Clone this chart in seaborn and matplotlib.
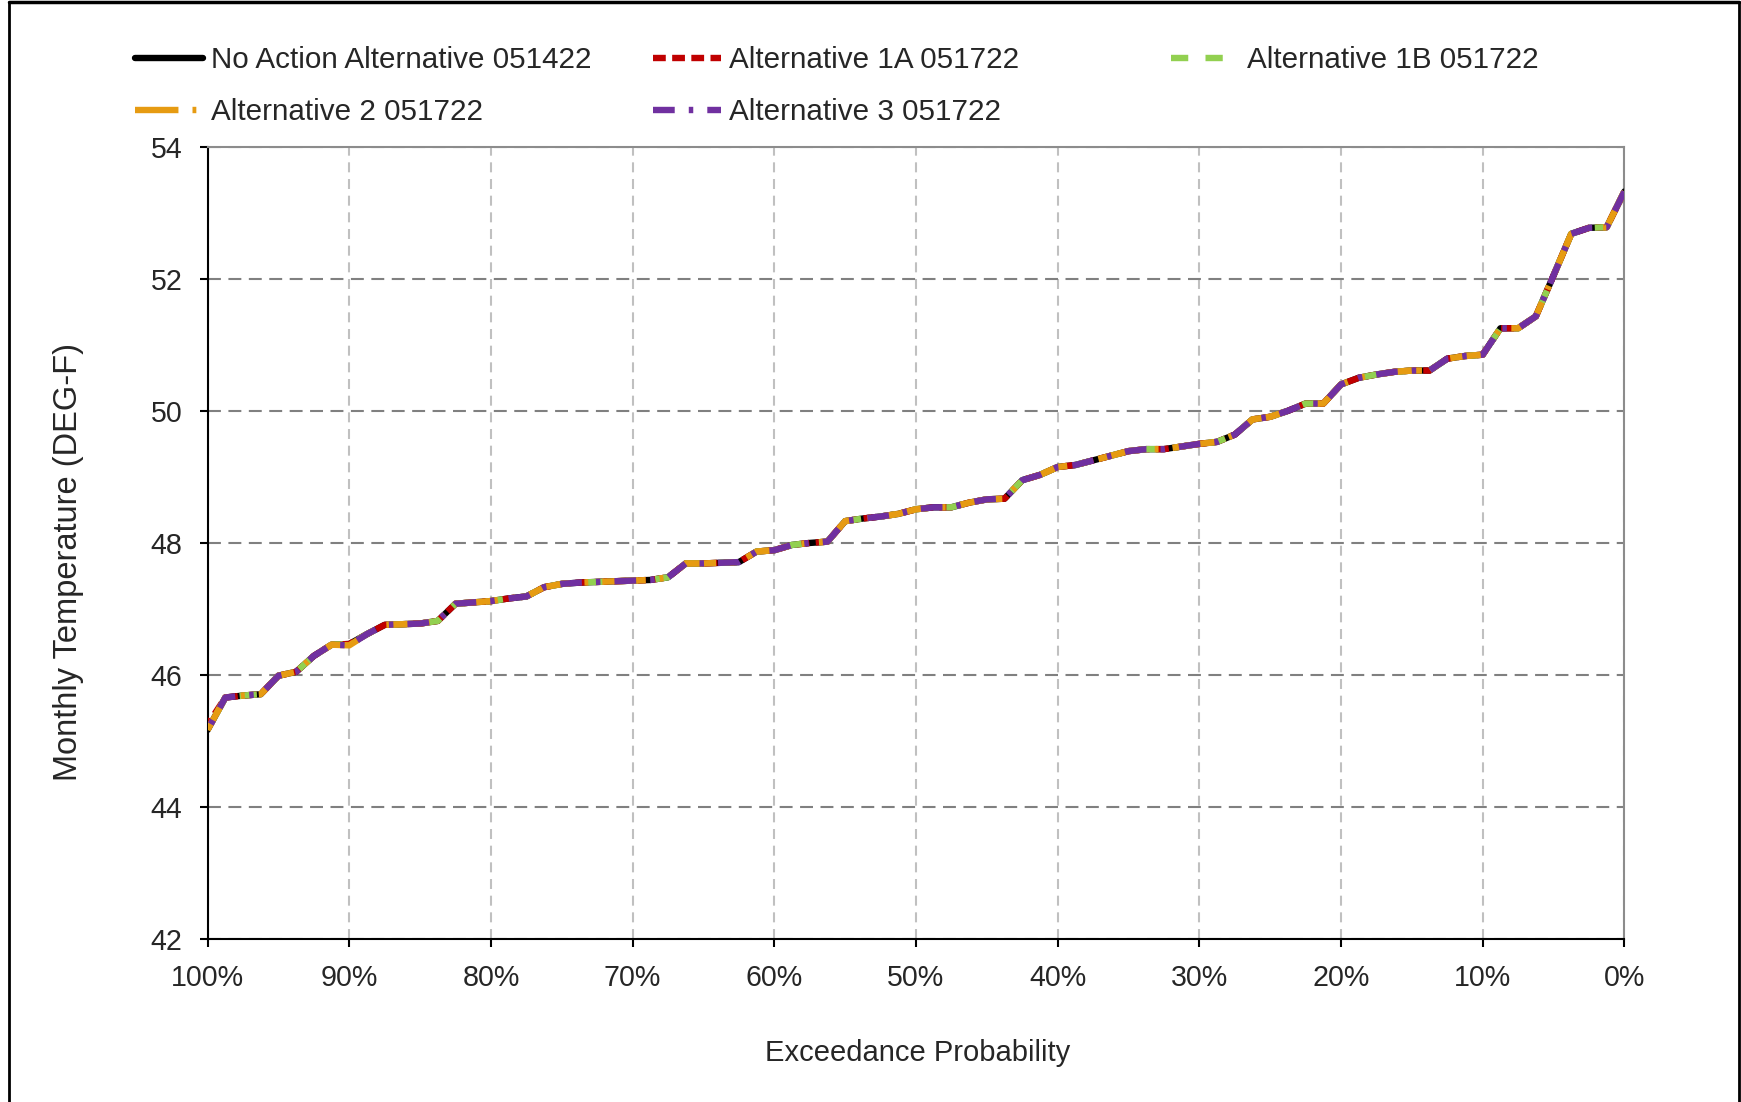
import numpy as np
import pandas as pd
import matplotlib.pyplot as plt
import seaborn as sns
from matplotlib.lines import Line2D
from matplotlib.ticker import MultipleLocator, PercentFormatter

# Exceedance probability (%) of the sorted monthly values, 100% -> 0%
exceed_pct = np.linspace(100, 0, 81)

# Monthly temperature (DEG-F)
temp_no_action = [
    45.17, 45.66, 45.69, 45.71, 45.99, 46.05, 46.29, 46.46, 46.47, 46.62,
    46.76, 46.77, 46.78, 46.82, 47.08, 47.10, 47.12, 47.16, 47.19, 47.33,
    47.38, 47.40, 47.41, 47.42, 47.43, 47.44, 47.48, 47.69, 47.69, 47.70,
    47.71, 47.87, 47.89, 47.97, 48.00, 48.02, 48.33, 48.37, 48.40, 48.44,
    48.51, 48.54, 48.54, 48.61, 48.66, 48.67, 48.95, 49.03, 49.15, 49.18,
    49.25, 49.32, 49.39, 49.42, 49.42, 49.46, 49.50, 49.53, 49.64, 49.87,
    49.91, 50.00, 50.11, 50.11, 50.40, 50.50, 50.55, 50.59, 50.61, 50.61,
    50.79, 50.83, 50.85, 51.25, 51.25, 51.43, 52.05, 52.68, 52.77, 52.78,
    53.32,
]
# the alternatives sit on top of the no action line, with a few small offsets
temp_alt_1a = list(temp_no_action)
temp_alt_1a[0] = 45.25
temp_alt_1b = list(temp_no_action)
temp_alt_2 = list(temp_no_action)
temp_alt_2[8] = 46.45
temp_alt_3 = list(temp_no_action)
temp_alt_3[8] = 46.45

labels = ["No Action Alternative 051422", "Alternative 1A 051722",
          "Alternative 1B 051722", "Alternative 2 051722",
          "Alternative 3 051722"]
colors = ["#000000", "#C00000", "#92D050", "#E69B12", "#7030A0"]
styles = ["-", (0, (2.0, 1.0)), (0, (2.7, 2.7)),
          (0, (6.8, 2.2, 0.6, 2.2)), (0, (3.4, 2.2, 0.7, 2.2))]
temps = [temp_no_action, temp_alt_1a, temp_alt_1b, temp_alt_2, temp_alt_3]

sns.set_style("white")
plt.rcParams['font.family'] = ['Liberation Sans', 'DejaVu Sans']

fig = plt.figure(figsize=(17.41, 11.02), dpi=100)
ax = fig.add_axes([207.6 / 1741, 1 - 939.3 / 1102,
                   (1624.4 - 207.6) / 1741, (939.3 - 146.6) / 1102])

handles = []
for i, (lab, t, c, ls) in enumerate(zip(labels, temps, colors, styles)):
    df = pd.DataFrame({'pct': exceed_pct, 'temp': t})
    sns.lineplot(data=df, x='pct', y='temp', ax=ax, color=c, linestyle=ls,
                 lw=4.6, zorder=3 + i, legend=False)
    handles.append(ax.lines[-1])

ax.set_xlim(100, 0)
ax.set_ylim(42, 54)
ax.xaxis.set_major_locator(MultipleLocator(10))
ax.xaxis.set_major_formatter(PercentFormatter(decimals=0))
ax.yaxis.set_major_locator(MultipleLocator(2))
ax.grid(axis='y', color='#808080', lw=1.5, linestyle=(0, (6.2, 3.6)))
ax.grid(axis='x', color='#C0C0C0', lw=1.5, linestyle=(0, (4.8, 3.2)))
ax.set_axisbelow(True)
ax.tick_params(axis='both', direction='out', length=6, width=1.5,
               color='black', labelsize=20.6, bottom=True, left=True)
ax.tick_params(axis='y', pad=12)
ax.tick_params(axis='x', pad=12)
for side in ['left', 'bottom']:
    ax.spines[side].set_color('black')
    ax.spines[side].set_linewidth(1.5)
for side in ['top', 'right']:
    ax.spines[side].set_color('#8C8C8C')
    ax.spines[side].set_linewidth(1.5)
ax.set_xlabel('')
ax.set_ylabel('')

fig.text(918 / 1741, 1 - 1053 / 1102, 'Exceedance Probability',
         fontsize=21, ha='center', va='center')
fig.text(69 / 1741, 1 - 562 / 1102, 'Monthly Temperature (DEG-F)',
         fontsize=23.5, ha='center', va='center', rotation=90)

# legend laid out as three columns, like the spreadsheet legend
leg_kw = dict(loc='upper left', frameon=False, fontsize=21.3,
              handlelength=2.3, handletextpad=0.27, labelspacing=0.82,
              borderpad=0, borderaxespad=0)
top = 1 - 46 / 1102
fig.legend([handles[0], handles[3]], [labels[0], labels[3]],
           bbox_to_anchor=(135 / 1741, top), **leg_kw)
fig.legend([handles[1], handles[4]], [labels[1], labels[4]],
           bbox_to_anchor=(653 / 1741, top), **leg_kw)
fig.legend([handles[2]], [labels[2]],
           bbox_to_anchor=(1171 / 1741, top), **leg_kw)

# outer chart frame (top, left, right)
fx0, fx1, fy = 9 / 1741, 1739 / 1741, 1 - 1.5 / 1102
fig.add_artist(Line2D([fx0, fx0], [0, fy], transform=fig.transFigure,
                      color='black', lw=2))
fig.add_artist(Line2D([fx1, fx1], [0, fy], transform=fig.transFigure,
                      color='black', lw=2))
fig.add_artist(Line2D([fx0, fx1], [fy, fy], transform=fig.transFigure,
                      color='black', lw=2.5))

fig.savefig('out.png', dpi=100)
plt.close(fig)
